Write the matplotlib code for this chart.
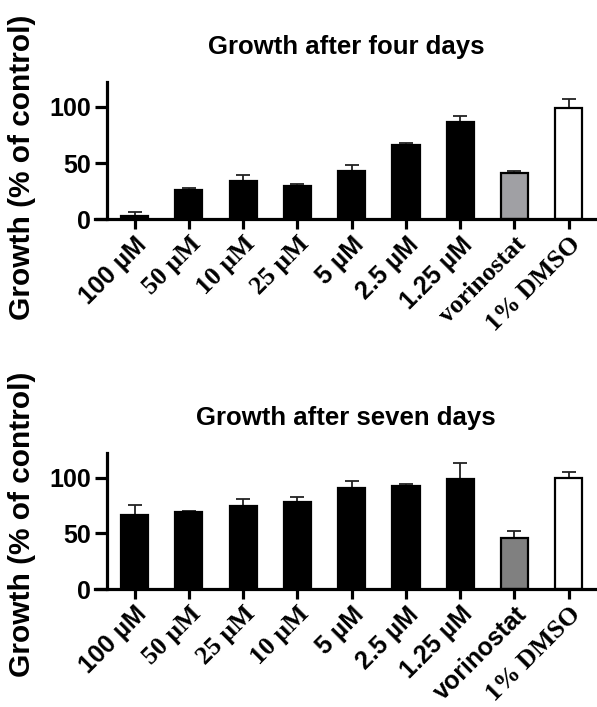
#!/usr/bin/env python3
"""
plot.py - growth after four / seven days bar charts
"""
import matplotlib.pyplot as plt

# data (% of control, mean and upper SD)
top_labels = ['100 \u00b5M', '50 \u00b5M', '10 \u00b5M', '25 \u00b5M', '5 \u00b5M',
              '2.5 \u00b5M', '1.25 \u00b5M', 'vorinostat', '1% DMSO']
top_means = [2.7, 26, 34.3, 29.6, 43.3, 66.3, 86.6, 40.9, 99.4]
top_err = [3.8, 2.0, 5.1, 2.0, 4.5, 1.5, 5.3, 1.8, 7.8]

bottom_labels = ['100 \u00b5M', '50 \u00b5M', '25 \u00b5M', '10 \u00b5M', '5 \u00b5M',
                 '2.5 \u00b5M', '1.25 \u00b5M', 'vorinostat', '1% DMSO']
bottom_means = [66.6, 68.7, 74.6, 77.9, 90.4, 92.5, 98.5, 45.4, 100]
bottom_err = [8.3, 1.2, 6.3, 4.2, 6.3, 2.1, 14.3, 6.2, 5.0]

# which tick labels came out in a serif face in the original
top_serif = [False, True, True, True, False, False, False, True, True]
bottom_serif = [False, True, True, True, False, False, False, False, True]

top_colors = ['black'] * 7 + ['#a0a0a4', 'white']
bottom_colors = ['black'] * 7 + ['#808080', 'white']

SANS = 'Liberation Sans'
SERIF = 'Liberation Serif'


def draw(ax, labels, means, err, colors, serif, title):
    x = list(range(len(labels)))
    ax.bar(x, means, width=0.5, color=colors, edgecolor='black', linewidth=1.6, zorder=2)
    ax.errorbar(x, means, yerr=[[0] * len(err), err], fmt='none', ecolor='#222222',
                elinewidth=1.3, capsize=4.7, capthick=1.3, zorder=1)
    ax.set_xlim(-0.73, 8.52)
    ax.set_ylim(0, 122)
    ax.spines['top'].set_visible(False)
    ax.spines['right'].set_visible(False)
    ax.spines['left'].set_position(('data', -0.507))
    for s in ('left', 'bottom'):
        ax.spines[s].set_linewidth(2.3)
    ax.set_yticks([0, 50, 100])
    ax.tick_params(axis='y', length=8.5, width=2.3, pad=3)
    ax.tick_params(axis='x', length=7.5, width=2.3, pad=2)
    for t in ax.get_yticklabels():
        t.set_fontfamily(SANS)
        t.set_fontweight('bold')
        t.set_fontsize(18)
    ax.set_xticks(x)
    ax.set_xticklabels(labels, rotation=45, ha='right', va='top', rotation_mode='anchor')
    for t, sf in zip(ax.get_xticklabels(), serif):
        t.set_fontfamily(SERIF if sf else SANS)
        t.set_fontweight('bold')
        t.set_fontsize(18.5 if sf else 18)
    ax.set_title(title, fontfamily=SANS, fontweight='bold', fontsize=18.5, pad=20)


def main():
    fig = plt.figure(figsize=(5.97, 7.07), dpi=100)
    ax1 = fig.add_axes([0.159, 0.690, 0.841, 0.1938])
    ax2 = fig.add_axes([0.159, 0.1669, 0.841, 0.1924])

    draw(ax1, top_labels, top_means, top_err, top_colors, top_serif, 'Growth after four days')
    draw(ax2, bottom_labels, bottom_means, bottom_err, bottom_colors, bottom_serif,
         'Growth after seven days')

    for yc in (1 - 167 / 707, 1 - 524 / 707):
        fig.text(22 / 597, yc, 'Growth (% of control)', rotation=90, ha='center', va='center',
                 fontfamily=SANS, fontweight='bold', fontsize=21.5)

    plt.savefig('out.png', dpi=100)


if __name__ == '__main__':
    main()
